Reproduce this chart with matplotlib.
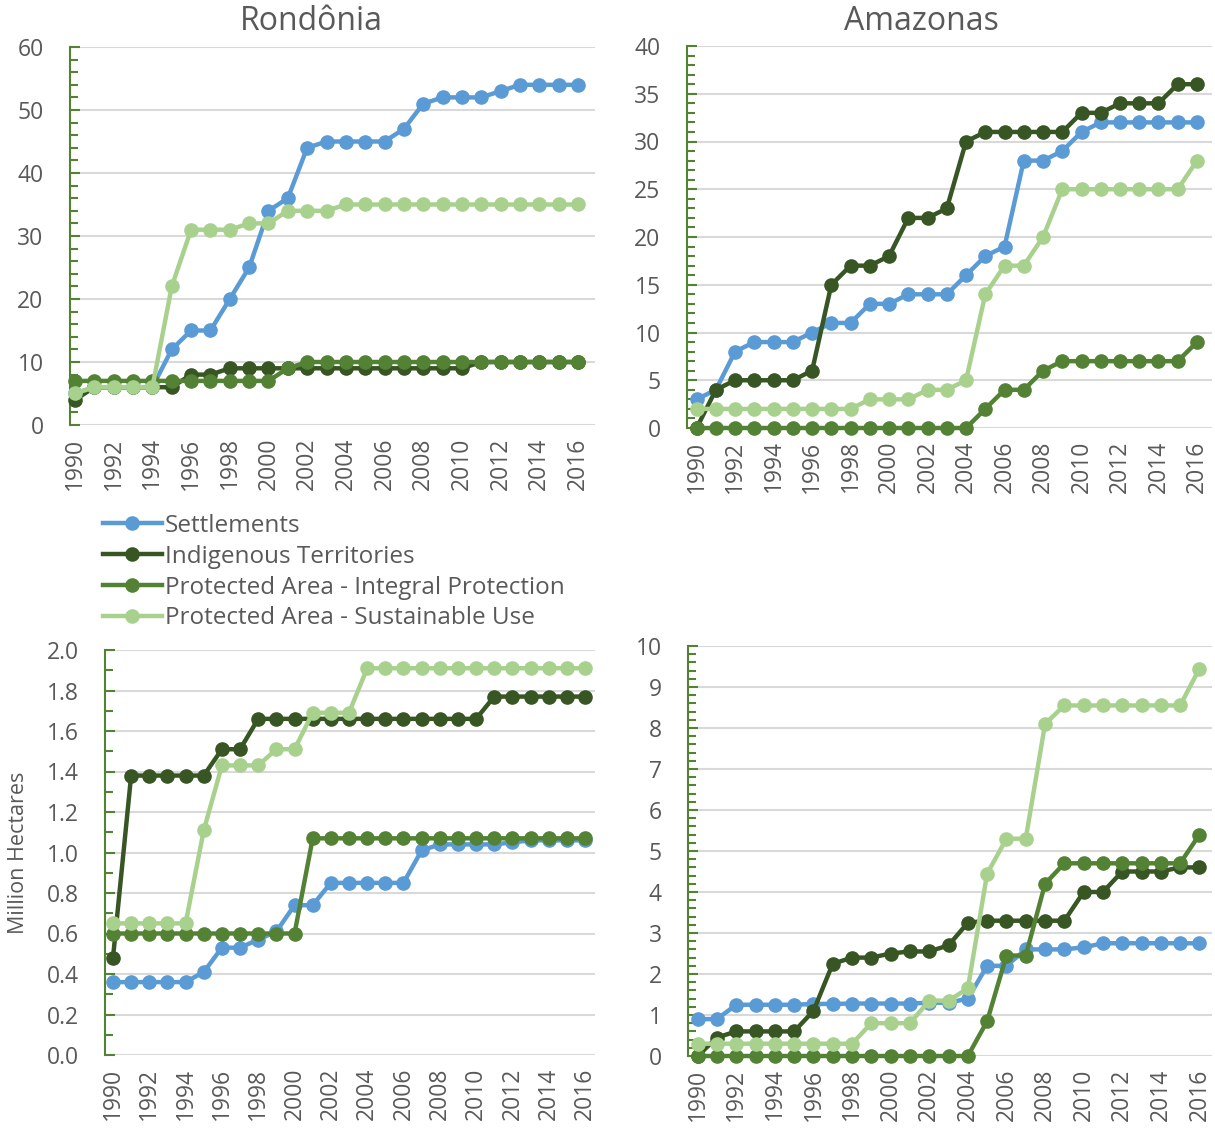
import matplotlib
matplotlib.use("Agg")
from matplotlib import pyplot as plt
from matplotlib.ticker import MultipleLocator, FormatStrFormatter

plt.rcParams['font.family'] = ['Open Sans', 'DejaVu Sans']

years = list(range(1990, 2017))
series_names = ['Settlements', 'Indigenous Territories',
                'Protected Area - Integral Protection', 'Protected Area - Sustainable Use']
colors = ['#5B9BD5', '#375623', '#548235', '#A9D18E']

# Rondonia - number of areas
ro_settle = [5, 6, 6, 6, 6, 12, 15, 15, 20, 25, 34, 36, 44, 45, 45, 45, 45, 47, 51, 52, 52, 52, 53, 54, 54, 54, 54]
ro_indig = [4, 6, 6, 6, 6, 6, 8, 8, 9, 9, 9, 9, 9, 9, 9, 9, 9, 9, 9, 9, 9, 10, 10, 10, 10, 10, 10]
ro_integ = [7, 7, 7, 7, 7, 7, 7, 7, 7, 7, 7, 9, 10, 10, 10, 10, 10, 10, 10, 10, 10, 10, 10, 10, 10, 10, 10]
ro_sust = [5, 6, 6, 6, 6, 22, 31, 31, 31, 32, 32, 34, 34, 34, 35, 35, 35, 35, 35, 35, 35, 35, 35, 35, 35, 35, 35]

# Amazonas - number of areas
am_settle = [3, 4, 8, 9, 9, 9, 10, 11, 11, 13, 13, 14, 14, 14, 16, 18, 19, 28, 28, 29, 31, 32, 32, 32, 32, 32, 32]
am_indig = [0, 4, 5, 5, 5, 5, 6, 15, 17, 17, 18, 22, 22, 23, 30, 31, 31, 31, 31, 31, 33, 33, 34, 34, 34, 36, 36]
am_integ = [0, 0, 0, 0, 0, 0, 0, 0, 0, 0, 0, 0, 0, 0, 0, 2, 4, 4, 6, 7, 7, 7, 7, 7, 7, 7, 9]
am_sust = [2, 2, 2, 2, 2, 2, 2, 2, 2, 3, 3, 3, 4, 4, 5, 14, 17, 17, 20, 25, 25, 25, 25, 25, 25, 25, 28]

# Rondonia - million hectares
ro_settle_ha = [0.36, 0.36, 0.36, 0.36, 0.36, 0.41, 0.53, 0.53, 0.57, 0.61, 0.74, 0.74, 0.85, 0.85, 0.85, 0.85, 0.85,
                1.01, 1.04, 1.04, 1.04, 1.04, 1.05, 1.06, 1.06, 1.06, 1.06]
ro_indig_ha = [0.48, 1.38, 1.38, 1.38, 1.38, 1.38, 1.51, 1.51, 1.66, 1.66, 1.66, 1.66, 1.66, 1.66, 1.66, 1.66, 1.66,
               1.66, 1.66, 1.66, 1.66, 1.77, 1.77, 1.77, 1.77, 1.77, 1.77]
ro_integ_ha = [0.60, 0.60, 0.60, 0.60, 0.60, 0.60, 0.60, 0.60, 0.60, 0.60, 0.60, 1.07, 1.07, 1.07, 1.07, 1.07, 1.07,
               1.07, 1.07, 1.07, 1.07, 1.07, 1.07, 1.07, 1.07, 1.07, 1.07]
ro_sust_ha = [0.65, 0.65, 0.65, 0.65, 0.65, 1.11, 1.43, 1.43, 1.43, 1.51, 1.51, 1.69, 1.69, 1.69, 1.91, 1.91, 1.91,
              1.91, 1.91, 1.91, 1.91, 1.91, 1.91, 1.91, 1.91, 1.91, 1.91]

# Amazonas - million hectares
am_settle_ha = [0.9, 0.9, 1.25, 1.25, 1.25, 1.25, 1.27, 1.27, 1.28, 1.28, 1.28, 1.28, 1.3, 1.3, 1.4, 2.2, 2.2,
                2.6, 2.6, 2.6, 2.65, 2.75, 2.75, 2.75, 2.75, 2.75, 2.75]
am_indig_ha = [0.0, 0.45, 0.6, 0.6, 0.6, 0.6, 1.1, 2.25, 2.4, 2.4, 2.5, 2.55, 2.55, 2.7, 3.25, 3.3, 3.3,
               3.3, 3.3, 3.3, 4.0, 4.0, 4.5, 4.5, 4.5, 4.6, 4.6]
am_integ_ha = [0, 0, 0, 0, 0, 0, 0, 0, 0, 0, 0, 0, 0, 0, 0, 0.85, 2.45, 2.45, 4.2, 4.7, 4.7, 4.7, 4.7, 4.7, 4.7, 4.7, 5.4]
am_sust_ha = [0.3, 0.3, 0.3, 0.3, 0.3, 0.3, 0.3, 0.3, 0.3, 0.8, 0.8, 0.8, 1.35, 1.35, 1.65, 4.45, 5.3,
              5.3, 8.1, 8.55, 8.55, 8.55, 8.55, 8.55, 8.55, 8.55, 9.45]

text_gray = '#595959'
spine_green = '#548235'

fig = plt.figure(figsize=(12.15, 11.29), dpi=100)
W, H = 1215, 1129


def make_ax(left, right, top, bottom):
    return fig.add_axes([left / W, 1 - bottom / H, (right - left) / W, (bottom - top) / H])


def draw(ax, data, ymax, major, minor, fmt, xlim):
    for vals, c, name in zip(data, colors, series_names):
        ax.plot(years, vals, '-o', color=c, lw=3.2, ms=9.5, label=name, clip_on=False, zorder=3)
    ax.set_ylim(0, ymax)
    ax.set_xlim(*xlim)
    ax.yaxis.set_major_locator(MultipleLocator(major))
    ax.yaxis.set_minor_locator(MultipleLocator(minor))
    ax.yaxis.set_major_formatter(FormatStrFormatter(fmt))
    ax.set_xticks(years[::2])
    ax.set_xticks(years, minor=True)
    ax.grid(axis='y', color='#D9D9D9', lw=1.5, zorder=0)
    ax.set_axisbelow(True)
    for s in ['top', 'right', 'bottom']:
        ax.spines[s].set_visible(False)
    ax.spines['left'].set_color(spine_green)
    ax.spines['left'].set_linewidth(1.5)
    ax.tick_params(axis='y', which='both', direction='in', color=spine_green, width=1.5,
                   labelsize=16.5, labelcolor=text_gray, pad=19)
    ax.tick_params(axis='y', which='major', length=7)
    ax.tick_params(axis='y', which='minor', length=6)
    ax.tick_params(axis='x', which='both', length=0, labelsize=16.5, labelcolor=text_gray,
                   labelrotation=90, pad=9)


ax1 = make_ax(70, 595, 47, 425)
draw(ax1, [ro_settle, ro_indig, ro_integ, ro_sust], 60, 10, 2, '%d', (1989.74, 2016.88))
ax2 = make_ax(687, 1212, 46, 428)
draw(ax2, [am_settle, am_indig, am_integ, am_sust], 40, 5, 1, '%d', (1989.5, 2016.78))
ax3 = make_ax(105, 595, 650, 1055)
draw(ax3, [ro_settle_ha, ro_indig_ha, ro_integ_ha, ro_sust_ha], 2.0, 0.2, 0.1, '%.1f', (1989.56, 2016.55))
ax4 = make_ax(688, 1212, 646, 1056)
draw(ax4, [am_settle_ha, am_indig_ha, am_integ_ha, am_sust_ha], 10, 1, 0.2, '%d', (1989.5, 2016.65))

fig.text(19 / W, 1 - 853 / H, 'Million Hectares', fontsize=15.5, color=text_gray,
         rotation=90, ha='center', va='center')

fig.text(311 / W, 1 - 22 / H, 'Rondônia', fontsize=23, color=text_gray, ha='center', va='center')
fig.text(921 / W, 1 - 22 / H, 'Amazonas', fontsize=23, color=text_gray, ha='center', va='center')

handles, labels = ax1.get_legend_handles_labels()
fig.legend(handles, labels, loc='upper left', bbox_to_anchor=(0.085, 1 - 514 / H), frameon=False,
           fontsize=17.5, labelcolor=text_gray, handlelength=2.4, handletextpad=0.12,
           labelspacing=0.28, borderpad=0, borderaxespad=0)

fig.savefig('out.png', dpi=100)
